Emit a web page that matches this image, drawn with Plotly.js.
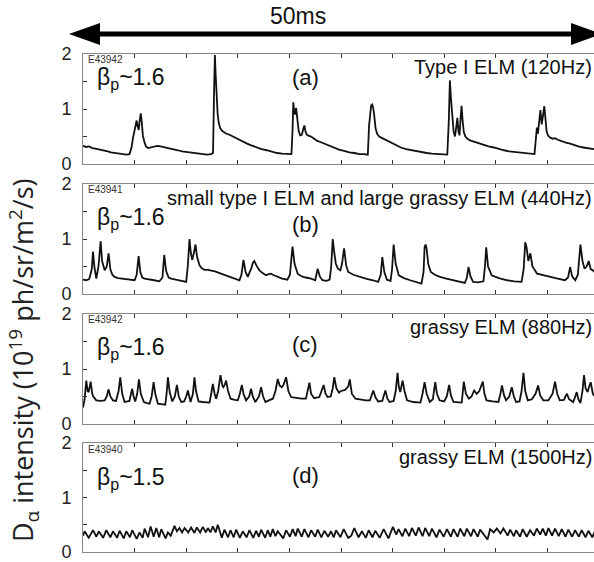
<!DOCTYPE html>
<html><head><meta charset="utf-8">
<script src="https://cdn.plot.ly/plotly-3.0.1.min.js"></script>
<style>html,body{margin:0;padding:0;overflow:hidden;background:#fff}</style>
</head><body><div id="chart" style="width:600px;height:562px"></div>
<script>
// time in ms, intensity in 1e19 ph/sr/m^2/s
const seriesA = [[0,0.33],[0.3,0.31],[0.6,0.32],[0.9,0.29],[1.2,0.28],[1.5,0.27],[1.8,0.26],[2.1,0.24],[2.4,0.23],[2.7,0.21],[3.0,0.2],[3.4,0.19],[3.8,0.18],[4.2,0.17],[4.5,0.18],
[4.7,0.3],[4.85,0.48],[5.0,0.62],[5.12,0.72],[5.2,0.79],[5.3,0.68],[5.4,0.62],[5.5,0.8],[5.6,0.92],[5.7,0.75],[5.8,0.52],[5.95,0.4],[6.1,0.32],[6.3,0.29],[6.6,0.3],[6.9,0.32],[7.2,0.33],[7.5,0.32],[7.8,0.31],[8.1,0.3],[8.4,0.29],[8.8,0.27],[9.2,0.25],[9.6,0.23],[10.0,0.22],[10.4,0.2],[10.8,0.19],[11.2,0.18],[11.6,0.18],[12.0,0.17],[12.4,0.18],[12.6,0.2],
[12.7,1.3],[12.78,1.98],[12.86,1.6],[12.95,1.2],[13.05,0.9],[13.15,0.75],[13.3,0.65],[13.5,0.6],[13.7,0.57],[13.9,0.55],[14.1,0.54],[14.3,0.52],[14.5,0.5],[14.8,0.47],[15.1,0.44],[15.5,0.41],[15.9,0.37],[16.3,0.34],[16.8,0.3],[17.3,0.27],[17.8,0.25],[18.3,0.22],[18.8,0.2],[19.3,0.19],[19.8,0.18],[20.2,0.18],
[20.3,0.6],[20.38,1.12],[20.46,0.95],[20.55,0.9],[20.65,1.02],[20.75,0.8],[20.9,0.6],[21.05,0.52],[21.2,0.53],[21.35,0.64],[21.45,0.7],[21.55,0.6],[21.7,0.53],[21.9,0.51],[22.1,0.5],[22.4,0.46],[22.7,0.42],[23.0,0.4],[23.4,0.37],[23.8,0.33],[24.3,0.29],[24.8,0.26],[25.3,0.24],[25.8,0.21],[26.3,0.2],[26.8,0.18],[27.2,0.18],[27.6,0.17],
[27.72,0.7],[27.82,0.98],[27.92,1.06],[28.02,1.08],[28.12,1.02],[28.22,0.88],[28.35,0.65],[28.5,0.55],[28.7,0.5],[28.9,0.48],[29.2,0.45],[29.5,0.42],[29.9,0.38],[30.3,0.34],[30.8,0.3],[31.3,0.27],[31.8,0.25],[32.3,0.23],[32.8,0.21],[33.3,0.2],[33.8,0.19],[34.3,0.18],[34.8,0.18],[35.3,0.17],
[35.45,0.8],[35.55,1.52],[35.65,1.2],[35.78,0.85],[35.92,0.58],[36.05,0.5],[36.15,0.62],[36.28,0.84],[36.38,0.6],[36.48,0.52],[36.58,0.8],[36.68,1.06],[36.78,0.8],[36.9,0.58],[37.05,0.5],[37.25,0.46],[37.5,0.43],[37.8,0.41],[38.1,0.39],[38.5,0.36],[38.9,0.34],[39.3,0.32],[39.8,0.3],[40.3,0.27],[40.8,0.25],[41.3,0.23],[41.8,0.22],[42.3,0.2],[42.8,0.19],[43.3,0.18],[43.75,0.18],
[43.88,0.45],[43.98,0.66],[44.08,0.55],[44.2,0.8],[44.32,0.98],[44.45,0.72],[44.58,0.9],[44.7,1.05],[44.8,0.85],[44.92,0.6],[45.05,0.52],[45.25,0.48],[45.5,0.46],[45.75,0.47],[46.0,0.44],[46.4,0.41],[46.8,0.39],[47.2,0.37],[47.6,0.34],[48.0,0.32],[48.5,0.3],[49.0,0.28],[49.5,0.27],[50,0.26]];

const seriesB = [[0,0.26],[0.3,0.25],[0.6,0.27],[0.85,0.45],[0.97,0.77],[1.1,0.5],[1.29,0.28],[1.5,0.5],[1.71,0.96],[1.85,0.6],[2.1,0.43],[2.3,0.5],[2.48,0.74],[2.65,0.45],[2.85,0.35],[3.06,0.31],[3.4,0.29],[3.8,0.28],[4.2,0.27],[4.6,0.26],[5.0,0.25],[5.2,0.35],[5.39,0.69],[5.55,0.4],[5.75,0.3],[5.97,0.28],[6.4,0.26],[6.9,0.25],[7.4,0.23],[7.7,0.3],[7.87,0.71],[8.05,0.42],[8.3,0.3],[8.55,0.28],[9.0,0.26],[9.5,0.24],[10.0,0.22],[10.15,0.5],[10.32,1.0],[10.45,0.75],[10.58,0.62],[10.75,0.75],[10.9,0.9],[11.05,0.68],[11.29,0.52],[11.5,0.47],[11.77,0.44],[12.1,0.44],[12.4,0.43],[12.8,0.41],[13.1,0.39],[13.4,0.37],[13.8,0.34],[14.35,0.31],[14.8,0.28],[15.16,0.25],[15.35,0.35],[15.55,0.62],[15.75,0.4],[15.97,0.31],[16.15,0.4],[16.3,0.46],[16.45,0.56],[16.6,0.6],[16.8,0.52],[17.1,0.43],[17.4,0.38],[17.74,0.34],[18.0,0.36],[18.2,0.37],[18.5,0.34],[18.87,0.31],[19.3,0.28],[19.8,0.26],[20.05,0.35],[20.3,0.86],[20.5,0.55],[20.8,0.37],[21.2,0.32],[21.6,0.3],[22.1,0.28],[22.5,0.25],[22.6,0.33],[22.74,0.46],[22.95,0.32],[23.2,0.25],[23.6,0.24],[23.9,0.26],[24.05,0.5],[24.2,1.0],[24.35,0.75],[24.5,0.55],[24.7,0.46],[24.94,0.43],[25.1,0.55],[25.3,0.83],[25.5,0.52],[25.7,0.4],[26.2,0.35],[26.8,0.31],[27.4,0.28],[28.1,0.25],[28.6,0.22],[28.85,0.35],[29.0,0.67],[29.2,0.4],[29.45,0.26],[29.8,0.24],[29.95,0.45],[30.1,0.9],[30.3,0.55],[30.6,0.34],[31.1,0.29],[31.7,0.25],[32.3,0.22],[32.8,0.19],[33.0,0.4],[33.1,0.85],[33.2,0.9],[33.3,0.82],[33.45,0.55],[33.7,0.4],[34.1,0.35],[34.6,0.31],[35.2,0.28],[35.9,0.25],[36.5,0.22],[37.0,0.2],[37.2,0.3],[37.35,0.49],[37.55,0.32],[37.8,0.22],[38.3,0.21],[38.8,0.23],[38.95,0.5],[39.07,0.85],[39.25,0.5],[39.6,0.34],[40.3,0.29],[41.1,0.25],[41.8,0.23],[42.5,0.22],[42.7,0.45],[42.85,0.94],[42.98,0.85],[43.15,0.6],[43.35,0.74],[43.55,0.5],[44.0,0.37],[44.6,0.34],[45.3,0.31],[46.0,0.28],[46.7,0.25],[47.0,0.3],[47.2,0.49],[47.4,0.32],[47.7,0.25],[47.95,0.35],[48.2,0.9],[48.4,0.6],[48.6,0.46],[48.8,0.5],[49.0,0.6],[49.2,0.45],[49.4,0.43],[49.7,0.38],[50,0.35]];

const seriesC = [[0,0.3],[0.15,0.45],[0.32,0.79],[0.45,0.6],[0.55,0.58],[0.74,0.77],[0.9,0.55],[1.0,0.5],[1.29,0.43],[1.7,0.42],[2.1,0.43],[2.3,0.5],[2.48,0.63],[2.65,0.5],[2.9,0.43],[3.2,0.42],[3.45,0.6],[3.61,0.85],[3.8,0.55],[4.03,0.4],[4.3,0.41],[4.5,0.42],[4.65,0.55],[4.77,0.64],[4.9,0.5],[5.06,0.41],[5.25,0.55],[5.42,0.81],[5.6,0.55],[5.9,0.4],[6.2,0.38],[6.45,0.37],[6.65,0.5],[6.84,0.76],[7.0,0.55],[7.26,0.37],[7.6,0.36],[7.97,0.35],[8.1,0.55],[8.23,0.85],[8.4,0.58],[8.65,0.41],[8.9,0.5],[9.1,0.71],[9.28,0.5],[9.52,0.4],[9.8,0.41],[10.0,0.5],[10.16,0.61],[10.3,0.48],[10.42,0.4],[10.65,0.55],[10.8,0.85],[10.95,0.6],[11.2,0.41],[11.6,0.4],[11.9,0.39],[12.26,0.39],[12.42,0.55],[12.58,0.73],[12.75,0.55],[12.9,0.46],[13.1,0.6],[13.32,0.89],[13.5,0.7],[13.6,0.67],[13.75,0.72],[13.87,0.79],[14.05,0.6],[14.3,0.46],[14.7,0.44],[15.0,0.43],[15.2,0.55],[15.39,0.71],[15.55,0.55],[15.8,0.43],[16.1,0.5],[16.29,0.64],[16.45,0.5],[16.7,0.4],[17.05,0.5],[17.26,0.67],[17.45,0.5],[17.68,0.4],[18.0,0.43],[18.4,0.46],[18.65,0.6],[18.87,0.82],[19.05,0.7],[19.26,0.67],[19.45,0.72],[19.68,0.85],[19.9,0.6],[20.16,0.49],[20.5,0.48],[20.8,0.47],[21.2,0.46],[21.6,0.46],[21.78,0.6],[21.94,0.75],[22.1,0.55],[22.4,0.47],[22.9,0.49],[23.1,0.6],[23.32,0.71],[23.5,0.55],[23.7,0.49],[24.0,0.5],[24.2,0.65],[24.35,0.85],[24.55,0.65],[24.8,0.57],[25.0,0.6],[25.4,0.62],[25.7,0.68],[25.85,0.81],[26.05,0.55],[26.4,0.46],[26.9,0.44],[27.4,0.43],[27.8,0.43],[27.95,0.52],[28.13,0.61],[28.35,0.48],[28.6,0.41],[29.0,0.42],[29.15,0.5],[29.3,0.61],[29.5,0.46],[29.7,0.4],[30.1,0.42],[30.3,0.6],[30.48,0.93],[30.6,0.68],[30.74,0.58],[30.85,0.7],[30.97,0.79],[31.15,0.6],[31.4,0.43],[32.0,0.4],[32.7,0.39],[32.9,0.55],[33.1,0.76],[33.3,0.55],[33.6,0.4],[33.9,0.45],[34.13,0.76],[34.3,0.55],[34.55,0.43],[35.0,0.41],[35.25,0.5],[35.48,0.71],[35.65,0.52],[35.9,0.4],[36.3,0.39],[36.7,0.39],[36.9,0.77],[37.1,0.55],[37.4,0.46],[37.65,0.5],[37.9,0.61],[38.15,0.55],[38.4,0.6],[38.74,0.77],[38.9,0.55],[39.1,0.43],[39.7,0.41],[40.26,0.4],[40.45,0.55],[40.6,0.7],[40.8,0.52],[41.0,0.43],[41.3,0.5],[41.55,0.67],[41.75,0.5],[41.97,0.4],[42.3,0.41],[42.5,0.6],[42.68,0.93],[42.85,0.6],[43.1,0.43],[43.5,0.45],[43.85,0.55],[44.1,0.7],[44.3,0.52],[44.6,0.43],[45.1,0.43],[45.5,0.55],[45.74,0.77],[45.95,0.55],[46.2,0.43],[46.6,0.44],[46.75,0.5],[46.9,0.55],[47.1,0.45],[47.5,0.4],[47.7,0.5],[47.84,0.58],[48.0,0.45],[48.2,0.38],[48.4,0.6],[48.55,0.89],[48.7,0.65],[48.9,0.58],[49.05,0.68],[49.2,0.76],[49.4,0.55],[49.7,0.48],[50,0.45]];

const seriesD = [[0,0.3],[0.16,0.38],[0.55,0.26],[0.97,0.4],[1.3,0.28],[1.52,0.38],[1.95,0.26],[2.26,0.4],[2.65,0.27],[2.9,0.38],[3.3,0.26],[3.55,0.39],[3.95,0.25],[4.19,0.38],[4.55,0.27],[4.77,0.4],[5.2,0.24],[5.48,0.36],[5.78,0.26],[5.97,0.43],[6.3,0.27],[6.55,0.47],[6.85,0.28],[7.1,0.44],[7.38,0.27],[7.58,0.42],[8.0,0.25],[8.23,0.36],[8.5,0.3],[8.87,0.48],[9.1,0.38],[9.35,0.44],[9.6,0.36],[9.84,0.44],[10.2,0.36],[10.48,0.45],[10.8,0.35],[11.03,0.45],[11.35,0.36],[11.61,0.46],[11.9,0.36],[12.1,0.44],[12.35,0.36],[12.58,0.47],[12.85,0.36],[13.06,0.5],[13.45,0.26],[13.71,0.41],[14.05,0.27],[14.29,0.4],[14.6,0.27],[14.84,0.41],[15.2,0.26],[15.48,0.38],[15.85,0.27],[16.13,0.4],[16.5,0.26],[16.77,0.39],[17.05,0.28],[17.26,0.41],[17.65,0.26],[17.9,0.4],[18.15,0.28],[18.39,0.42],[18.65,0.29],[18.87,0.38],[19.4,0.25],[19.68,0.4],[20.05,0.28],[20.32,0.42],[20.6,0.29],[20.81,0.43],[21.2,0.28],[21.45,0.42],[21.85,0.27],[22.1,0.4],[22.5,0.28],[22.74,0.41],[23.1,0.27],[23.39,0.39],[23.75,0.28],[24.03,0.38],[24.3,0.27],[24.52,0.4],[24.95,0.27],[25.26,0.42],[25.7,0.26],[26.0,0.3],[26.29,0.44],[26.7,0.27],[27.03,0.38],[27.4,0.26],[27.68,0.4],[28.05,0.27],[28.32,0.39],[28.75,0.26],[29.13,0.42],[29.6,0.25],[30.03,0.46],[30.35,0.32],[30.58,0.42],[30.95,0.29],[31.23,0.43],[31.6,0.29],[31.87,0.44],[32.25,0.3],[32.52,0.45],[32.9,0.29],[33.16,0.44],[33.55,0.29],[33.81,0.43],[34.25,0.27],[34.55,0.41],[34.95,0.28],[35.26,0.42],[35.65,0.28],[35.9,0.42],[36.3,0.28],[36.55,0.43],[36.95,0.29],[37.19,0.43],[37.6,0.29],[37.84,0.42],[38.25,0.28],[38.48,0.41],[39.2,0.23],[39.45,0.42],[39.8,0.36],[40.1,0.43],[40.45,0.34],[40.74,0.43],[41.15,0.3],[41.39,0.41],[41.75,0.29],[41.97,0.4],[42.35,0.28],[42.61,0.42],[43.0,0.28],[43.32,0.4],[43.7,0.3],[43.97,0.43],[44.3,0.32],[44.55,0.43],[44.85,0.3],[45.1,0.44],[45.45,0.3],[45.74,0.43],[46.1,0.29],[46.39,0.42],[46.75,0.28],[47.03,0.41],[47.4,0.28],[47.68,0.4],[48.05,0.28],[48.32,0.4],[48.7,0.27],[48.97,0.39],[49.35,0.27],[49.6,0.38],[50,0.28]];

const shots = ['E43942','E43941','E43942','E43940'];
const betas = ['1.6','1.6','1.6','1.5'];
const letters = ['(a)','(b)','(c)','(d)'];
const elmLabels = ['Type I ELM (120Hz)','small type I ELM and large grassy ELM (440Hz)','grassy ELM (880Hz)','grassy ELM (1500Hz)'];
const yTickVals = [0,0.5,1,1.5,2];
const yTickText = ['0','','1','','2'];
const series = [seriesA, seriesB, seriesC, seriesD];

// ---- layout geometry (pixels) ----
const W = 600, H = 562, ML = 83, MR = 1, MT = 54, MB = 10;
const PW = W - ML - MR, PH = H - MT - MB;
const panelPx = [[54,164],[184,294],[314,424],[443,552]];
const fx = p => (p - ML) / PW;
const fy = p => (H - MB - p) / PH;

const FONT = 'Liberation Sans, Arial, sans-serif';
const traces = [], layout = {
  width: W, height: H, margin: {l: ML, r: MR, t: MT, b: MB},
  paper_bgcolor: '#fff', plot_bgcolor: '#fff', showlegend: false,
  font: {family: FONT, color: '#111'},
  annotations: [], shapes: []
};

// label pixel positions per panel [shot y, beta y, letter y, elm y]
const labY = [[59,79,77,67],[189,218,224,198],[319,348,345,327],[449,478,475,457]];

series.forEach((s, i) => {
  const k = i === 0 ? '' : String(i + 1);
  traces.push({x: s.map(p => p[0]), y: s.map(p => p[1]), type: 'scatter', mode: 'lines',
    xaxis: 'x' + k, yaxis: 'y' + k, line: {color: '#111', width: 1.8}, hoverinfo: 'skip'});
  layout['xaxis' + k] = {range: [0, 50], domain: [0, 1], anchor: 'y' + k, tick0: 0, dtick: 5,
    ticks: 'inside', ticklen: 4, tickwidth: 1, tickcolor: '#333', showticklabels: false,
    showline: true, linecolor: '#888', linewidth: 1, mirror: 'ticks', showgrid: false, zeroline: false};
  layout['yaxis' + k] = {range: [0, 2], domain: [fy(panelPx[i][1]), fy(panelPx[i][0])], anchor: 'x' + k,
    tickmode: 'array', tickvals: yTickVals, ticktext: yTickText, ticks: 'inside', ticklen: 4,
    tickcolor: '#333', showline: true, linecolor: '#888', linewidth: 1, mirror: true, ticklabelstandoff: 7,
    ticklabeloverflow: 'allow',
    showgrid: false, zeroline: false, tickfont: {family: FONT, size: 18, color: '#222'}};
  const ly = labY[i];
  layout.annotations.push(
    {text: shots[i], xref: 'paper', yref: 'paper', x: fx(86), y: fy(ly[0]), xanchor: 'left', yanchor: 'middle',
     showarrow: false, font: {family: FONT, size: 10, color: '#333'}},
    {text: 'β<sub>p</sub>~' + betas[i], xref: 'paper', yref: 'paper', x: fx(95), y: fy(ly[1]), xanchor: 'left', yanchor: 'middle',
     showarrow: false, font: {family: FONT, size: 23, color: '#111'}},
    {text: letters[i], xref: 'paper', yref: 'paper', x: fx(305), y: fy(ly[2]), xanchor: 'center', yanchor: 'middle',
     showarrow: false, font: {family: FONT, size: 22, color: '#111'}},
    {text: elmLabels[i], xref: 'paper', yref: 'paper', x: fx(594), y: fy(ly[3]), xanchor: 'right', yanchor: 'middle',
     showarrow: false, font: {family: FONT, size: 20, color: '#111'}}
  );
});

// y title
layout.annotations.push({text: 'D<sub>α</sub> intensity (10<sup>19</sup> ph/sr/m<sup>2</sup>/s)', xref: 'paper', yref: 'paper',
  x: fx(23), y: fy(360), xanchor: 'center', yanchor: 'middle', textangle: -90, showarrow: false,
  font: {family: 'Open Sans, sans-serif', size: 27, color: '#222'}});
// 50ms label
layout.annotations.push({text: '50ms', xref: 'paper', yref: 'paper', x: fx(298), y: fy(16), xanchor: 'center', yanchor: 'middle',
  showarrow: false, font: {family: FONT, size: 23, color: '#111'}});

// double-headed arrow
const pt = (x, y) => fx(x) + ',' + fy(y);
layout.shapes.push(
  {type: 'line', xref: 'paper', yref: 'paper', x0: fx(95), x1: fx(575), y0: fy(34), y1: fy(34), line: {color: '#000', width: 5}},
  {type: 'path', xref: 'paper', yref: 'paper', path: 'M' + pt(69, 34) + 'L' + pt(100, 23) + 'L' + pt(100, 45) + 'Z', fillcolor: '#000', line: {width: 0}},
  {type: 'path', xref: 'paper', yref: 'paper', path: 'M' + pt(602, 34) + 'L' + pt(571, 23) + 'L' + pt(571, 45) + 'Z', fillcolor: '#000', line: {width: 0}}
);

Plotly.newPlot('chart', traces, layout, {displayModeBar: false, staticPlot: true});
</script></body></html>
